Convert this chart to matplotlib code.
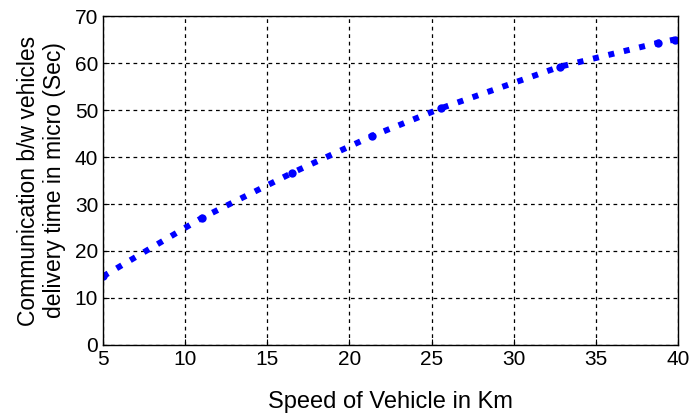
import matplotlib
matplotlib.use("Agg")
from matplotlib import pyplot as plt

plt.rcParams['font.family'] = ['Liberation Sans', 'DejaVu Sans']

# speed (km) vs delivery time (micro sec)
speed = [5, 11, 16.5, 21.4, 25.6, 32.8, 38.8, 39.8]
delivery_time = [14.6, 27.0, 36.6, 44.5, 50.4, 59.2, 64.3, 65.0]

fig = plt.figure(figsize=(6.89, 4.15), dpi=100)
ax = fig.add_axes([0.1495, 0.1687, 0.8345, 0.7927])

ax.plot(speed, delivery_time, color='blue', linestyle=':', linewidth=4.3,
        marker='o', markersize=6, markeredgewidth=0)

ax.set_xlim(5, 40)
ax.set_ylim(0, 70)
ax.set_xticks(range(5, 41, 5))
ax.set_yticks(range(0, 71, 10))
ax.grid(True, color='black', linestyle=(0, (3, 3)), linewidth=0.9)
ax.tick_params(direction='in', labelsize=15, length=4, color='black')
for s in ax.spines.values():
    s.set_linewidth(1.0)

ax.set_xlabel("Speed of Vehicle in Km", fontsize=17, labelpad=16)
ax.set_ylabel("Communication b/w vehicles\ndelivery time in micro (Sec)", fontsize=16.5, labelpad=6)

plt.savefig("out.png", dpi=100)
plt.close()
